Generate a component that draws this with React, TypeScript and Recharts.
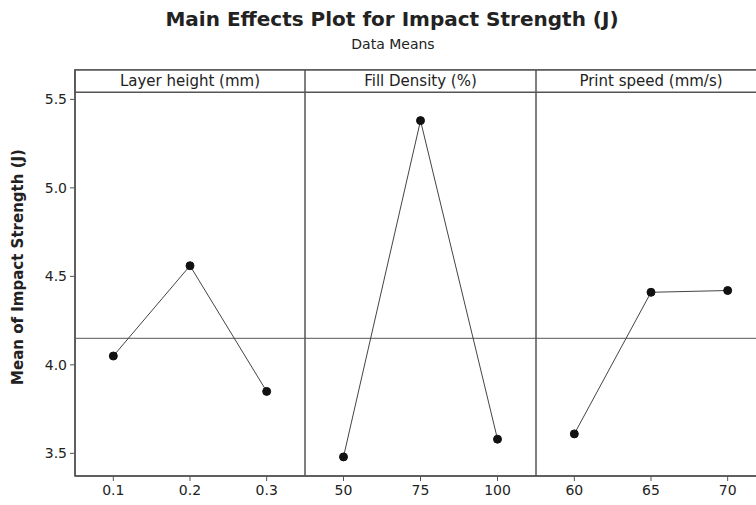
import React from 'react';
import { LineChart, Line, XAxis, YAxis, ReferenceLine, ReferenceArea, Label } from 'recharts';

const FONT = '"DejaVu Sans", Verdana, sans-serif';

const layerHeights = [0.1, 0.2, 0.3];
const layerMeans = [4.05, 4.56, 3.85];
const fillDensities = [50, 75, 100];
const fillMeans = [3.48, 5.38, 3.58];
const printSpeeds = [60, 65, 70];
const printMeans = [3.61, 4.41, 4.42];
const yTicks = [3.5, 4.0, 4.5, 5.0, 5.5];
const grandMean = 4.15;

const panelTitles = ['Layer height (mm)', 'Fill Density (%)', 'Print speed (mm/s)'];
const xTickLabels = [['0.1', '0.2', '0.3'], ['50', '75', '100'], ['60', '65', '70']];

const Y_MIN = 3.372;
const Y_MAX = 5.666;
const STRIP_BOTTOM = 5.54;

const panels = [
  { title: panelTitles[0], xs: layerHeights, ys: layerMeans, labels: xTickLabels[0], left: 0, width: 305, yAxis: true },
  { title: panelTitles[1], xs: fillDensities, ys: fillMeans, labels: xTickLabels[1], left: 305, width: 231, yAxis: false },
  { title: panelTitles[2], xs: printSpeeds, ys: printMeans, labels: xTickLabels[2], left: 536, width: 230, yAxis: false },
];

const LINE = '#555';

function Panel({ p }: { p: any }) {
  const step = p.xs[1] - p.xs[0];
  const d0 = p.xs[0] - step / 2;
  const d1 = p.xs[p.xs.length - 1] + step / 2;
  const data = p.xs.map((x: number, i: number) => ({ x, y: p.ys[i] }));
  const fmt = (v: number) => {
    const idx = p.xs.findIndex((x: number) => Math.abs(x - v) < 1e-9);
    return idx >= 0 ? p.labels[idx] : String(v);
  };
  return (
    <div style={{ position: 'absolute', left: p.left, top: 0 }}>
      <LineChart width={p.width} height={505} data={data} margin={{ top: 70, right: 0, bottom: 0, left: 0 }}>
        <XAxis
          type="number"
          dataKey="x"
          domain={[d0, d1]}
          ticks={p.xs}
          tickFormatter={fmt}
          allowDataOverflow
          height={29}
          axisLine={{ stroke: LINE, strokeWidth: 1.5 }}
          tickLine={{ stroke: LINE }}
          tickSize={5}
          tickMargin={4}
          tick={{ fontSize: 14, fill: '#222', fontFamily: FONT }}
        />
        <YAxis
          type="number"
          domain={[Y_MIN, Y_MAX]}
          ticks={yTicks}
          allowDataOverflow
          hide={!p.yAxis}
          width={p.yAxis ? 75 : 0}
          tickFormatter={(v: number) => v.toFixed(1)}
          axisLine={{ stroke: LINE, strokeWidth: 1.5 }}
          tickLine={{ stroke: LINE }}
          tickSize={5}
          tickMargin={3}
          tick={{ fontSize: 14, fill: '#222', fontFamily: FONT }}
          label={
            p.yAxis
              ? {
                  content: (lp: any) => {
                    const vb = lp.viewBox || { x: 0, y: 70, width: 75, height: 406 };
                    const cx = vb.x + 18;
                    const cy = vb.y + vb.height / 2 - 6;
                    return (
                      <text
                        x={cx}
                        y={cy}
                        transform={`rotate(-90 ${cx} ${cy})`}
                        textAnchor="middle"
                        dominantBaseline="central"
                        fontFamily={FONT}
                        fontWeight="bold"
                        fontSize={15}
                        fill="#222"
                      >
                        Mean of Impact Strength (J)
                      </text>
                    );
                  },
                }
              : undefined
          }
        />
        <ReferenceArea x1={d0} x2={d1} y1={Y_MIN} y2={Y_MAX} fill="none" stroke={LINE} strokeWidth={1.5} ifOverflow="visible" />
        <ReferenceArea
          x1={d0}
          x2={d1}
          y1={STRIP_BOTTOM}
          y2={Y_MAX}
          fill="#fff"
          fillOpacity={1}
          stroke={LINE}
          strokeWidth={1.5}
          ifOverflow="visible"
        >
          <Label value={p.title} position="center" fontSize={15} fill="#222" fontFamily={FONT} />
        </ReferenceArea>
        <ReferenceLine y={grandMean} stroke={LINE} strokeWidth={1} ifOverflow="visible" />
        <Line
          type="linear"
          dataKey="y"
          stroke="#444"
          strokeWidth={1}
          dot={{ r: 4, fill: '#111', stroke: '#111', strokeWidth: 1 }}
          isAnimationActive={false}
        />
      </LineChart>
    </div>
  );
}

export default function App() {
  return (
    <div
      style={{
        position: 'absolute',
        left: 0,
        top: 0,
        width: 756,
        height: 505,
        overflow: 'hidden',
        background: '#fff',
        fontFamily: FONT,
      }}
    >
      <div
        style={{
          position: 'absolute',
          left: 0,
          top: 5,
          width: 784,
          textAlign: 'center',
          fontWeight: 'bold',
          fontSize: 20,
          color: '#222',
          lineHeight: '28px',
        }}
      >
        Main Effects Plot for Impact Strength (J)
      </div>
      <div
        style={{
          position: 'absolute',
          left: 0,
          top: 35,
          width: 786,
          textAlign: 'center',
          fontSize: 14,
          color: '#222',
          lineHeight: '18px',
        }}
      >
        Data Means
      </div>
      {panels.map((p) => (
        <Panel key={p.title} p={p} />
      ))}
    </div>
  );
}
